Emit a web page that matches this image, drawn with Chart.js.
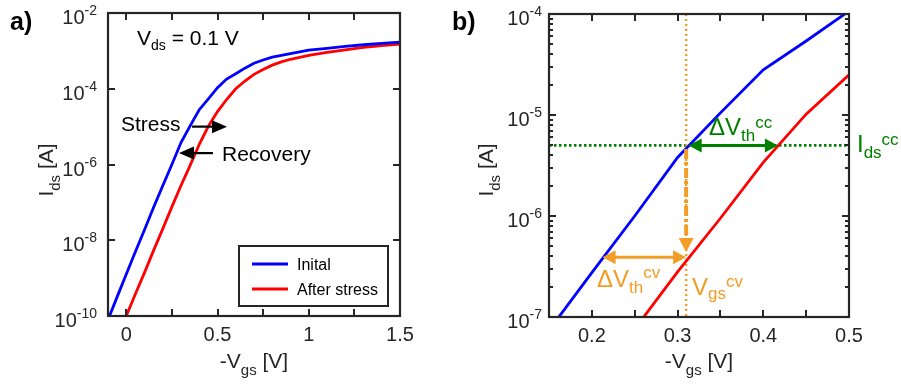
<!DOCTYPE html>
<html>
<head>
<meta charset="utf-8">
<style>
  html, body { margin: 0; padding: 0; background: #fff; }
  #wrap { position: relative; width: 901px; height: 385px; overflow: hidden; }
  canvas { position: absolute; top: 0; }
</style>
</head>
<body>
<div id="wrap">
  <canvas id="chartA" width="450" height="385" style="left:0"></canvas>
  <canvas id="chartB" width="451" height="385" style="left:450px"></canvas>
</div>
<script src="https://cdn.jsdelivr.net/npm/chart.js"></script>
<script>
// transfer curves, -Vgs [V] vs Ids [A]
const vgsInitial = [-0.1, -0.05, 0, 0.05, 0.1, 0.15, 0.2, 0.25, 0.3, 0.35, 0.4, 0.45, 0.5, 0.55, 0.6, 0.65, 0.7, 0.75, 0.8, 0.85, 0.9, 1.0, 1.1, 1.2, 1.3, 1.4, 1.5];
const idsInitial = [7.9e-11, 3.2e-10, 1.26e-9, 5.0e-9, 1.9e-8, 7.4e-8, 2.75e-7, 1.0e-6, 3.8e-6, 1.05e-5, 2.8e-5, 5.4e-5, 1.07e-4, 1.8e-4, 2.5e-4, 3.5e-4, 4.7e-4, 5.75e-4, 6.8e-4, 7.6e-4, 8.5e-4, 1.05e-3, 1.17e-3, 1.32e-3, 1.45e-3, 1.58e-3, 1.7e-3];
const vgsStress = [0, 0.05, 0.1, 0.15, 0.2, 0.25, 0.3, 0.35, 0.4, 0.45, 0.5, 0.55, 0.6, 0.65, 0.7, 0.75, 0.8, 0.85, 0.9, 1.0, 1.1, 1.2, 1.3, 1.4, 1.5];
const idsStress = [1.0e-10, 3.8e-10, 1.4e-9, 5.4e-9, 2.0e-8, 7.6e-8, 2.8e-7, 9.5e-7, 3.4e-6, 1.02e-5, 2.5e-5, 5.2e-5, 1.0e-4, 1.6e-4, 2.4e-4, 3.2e-4, 4.2e-4, 5.1e-4, 6.0e-4, 7.6e-4, 9.1e-4, 1.07e-3, 1.23e-3, 1.38e-3, 1.5e-3];
const seriesNames = ['Inital', 'After stress'];

// axis ticks
const xTicksA = [0, 0.25, 0.5, 0.75, 1, 1.25];
const xLabelsA = [0, 0.5, 1, 1.5];
const yExpA = [-2, -4, -6, -8, -10];
const xTicksB = [0.2, 0.25, 0.3, 0.35, 0.4, 0.45];
const xLabelsB = [0.2, 0.3, 0.4, 0.5];
const yExpB = [-4, -5, -6, -7];
const yMinorB = [2, 3, 4, 5, 6, 7, 8, 9];

// threshold extraction markers
const idsCC = 5e-6;            // constant-current level
const vthCC = [0.313, 0.417];  // where each curve crosses idsCC
const vgsCV = 0.31;            // constant-voltage point
const idsCV = 3.9e-7;
const vthCV = [0.2125, 0.31];
const stressArrow = [[0.36, 1e-5], [0.552, 1e-5]];
const recoveryArrow = [[0.475, 2e-6], [0.289, 2e-6]];

const FONT = '"Liberation Sans", Arial, sans-serif';
const AXIS = '#262626';
const BLUE = '#0000ff', RED = '#ff0000', GREEN = '#008000', ORANGE = '#f29d26';

function richText(ctx, x, y, parts, align) {
  ctx.textAlign = 'left';
  ctx.textBaseline = 'alphabetic';
  let w = 0;
  parts.forEach(p => { ctx.font = (p[3] || '') + p[1] + 'px ' + FONT; w += ctx.measureText(p[0]).width; });
  let cx = align === 'center' ? x - w / 2 : align === 'right' ? x - w : x;
  parts.forEach(p => {
    ctx.font = (p[3] || '') + p[1] + 'px ' + FONT;
    ctx.fillText(p[0], cx, y + (p[2] || 0));
    cx += ctx.measureText(p[0]).width;
  });
}

function head(ctx, x0, y0, x1, y1, len, half) {
  const a = Math.atan2(y1 - y0, x1 - x0), c = Math.cos(a), s = Math.sin(a);
  ctx.beginPath();
  ctx.moveTo(x1, y1);
  ctx.lineTo(x1 - len * c + half * s, y1 - len * s - half * c);
  ctx.lineTo(x1 - len * c - half * s, y1 - len * s + half * c);
  ctx.closePath();
  ctx.fill();
}

function arrow(ctx, x0, y0, x1, y1, o) {
  const a = Math.atan2(y1 - y0, x1 - x0), c = Math.cos(a), s = Math.sin(a);
  ctx.save();
  ctx.strokeStyle = o.color; ctx.fillStyle = o.color; ctx.lineWidth = o.width;
  if (o.dash) ctx.setLineDash(o.dash);
  ctx.beginPath();
  ctx.moveTo(o.both ? x0 + (o.len - 1) * c : x0, o.both ? y0 + (o.len - 1) * s : y0);
  ctx.lineTo(x1 - (o.len - 1) * c, y1 - (o.len - 1) * s);
  ctx.stroke();
  ctx.setLineDash([]);
  head(ctx, x0, y0, x1, y1, o.len, o.half);
  if (o.both) head(ctx, x1, y1, x0, y0, o.len, o.half);
  ctx.restore();
}

// inward tick marks on all four sides
function tickMarks(ctx, a, xs, ys, len) {
  xs.forEach(px => {
    ctx.fillRect(px - 1, a.bottom - len, 2, len);
    ctx.fillRect(px - 1, a.top, 2, len);
  });
  ys.forEach(py => {
    ctx.fillRect(a.left, py - 1, len, 2);
    ctx.fillRect(a.right - len, py - 1, len, 2);
  });
}

function drawFrame(chart, f) {
  const { ctx, chartArea: a, scales: { x, y } } = chart;
  ctx.save();
  ctx.fillStyle = AXIS;
  const xPix = f.xTicks.map(v => Math.round(x.getPixelForValue(v)));
  const yPix = f.yExp.map(e => Math.round(y.getPixelForValue(Math.pow(10, e))));
  const yMinorPix = [];
  f.yExp.forEach(e => (f.yMinor || []).forEach(m => {
    const pm = Math.round(y.getPixelForValue(m * Math.pow(10, e - 1)));
    if (pm < a.bottom && pm > a.top) yMinorPix.push(pm);
  }));
  tickMarks(ctx, a, xPix, yPix, 7);
  tickMarks(ctx, a, [], yMinorPix, 4);
  ctx.strokeStyle = AXIS;
  ctx.lineWidth = 2.2;
  ctx.strokeRect(a.left, a.top, a.right - a.left, a.bottom - a.top);

  f.xLabels.forEach(v => richText(ctx, x.getPixelForValue(v), a.bottom + 25, [[String(v), 20, 0]], 'center'));
  f.yExp.forEach(e => {
    const py = y.getPixelForValue(Math.pow(10, e));
    richText(ctx, f.yLabelRight, py, [['10', 20, 11], [String(e), 14, 2]], 'right');
  });
  richText(ctx, (a.left + a.right) / 2, 368, [['-V', 21, 0], ['gs', 15, 7], [' [V]', 21, 0]], 'center');
  ctx.translate(f.yTitleX, 170);
  ctx.rotate(-Math.PI / 2);
  richText(ctx, 0, 0, [['I', 21, 0], ['ds', 15, 7], [' [A]', 21, 0]], 'center');
  ctx.restore();
  ctx.save();
  ctx.fillStyle = '#000';
  richText(ctx, f.tagX, 30, [[f.tag, 25, 0, 'bold ']], 'left');
  ctx.restore();
}

function pts(xs, ys) { return xs.map((v, i) => ({ x: v, y: ys[i] })); }

function curves() {
  return [
    { label: seriesNames[0], data: pts(vgsInitial, idsInitial), borderColor: BLUE, borderWidth: 2.8, showLine: true, pointRadius: 0, fill: false, clip: 0 },
    { label: seriesNames[1], data: pts(vgsStress, idsStress), borderColor: RED, borderWidth: 2.8, showLine: true, pointRadius: 0, fill: false, clip: 0 }
  ];
}

const baseOptions = (xr, yr, pad) => ({
  responsive: false,
  animation: false,
  layout: { padding: pad },
  plugins: { legend: { display: false }, tooltip: { enabled: false } },
  scales: {
    x: { type: 'linear', min: xr[0], max: xr[1], display: false },
    y: { type: 'logarithmic', min: yr[0], max: yr[1], display: false }
  }
});

// panel a: full sweep
new Chart(document.getElementById('chartA'), {
  type: 'scatter',
  data: { datasets: curves() },
  options: baseOptions([-0.1, 1.5], [1e-10, 1e-2], { left: 108, top: 13, right: 50, bottom: 69 }),
  plugins: [{
    id: 'panelA',
    afterDraw(chart) {
      const { ctx, scales: { x, y } } = chart;
      drawFrame(chart, { xTicks: xTicksA, xLabels: xLabelsA, yExp: yExpA, yLabelRight: 97, yTitleX: 53, tag: 'a)', tagX: 10 });
      ctx.save();
      ctx.fillStyle = '#000';
      richText(ctx, 137, 45, [['V', 21, 0], ['ds', 14, 5], [' = 0.1 V', 21, 0]], 'left');
      richText(ctx, 121, 131, [['Stress', 21, 0]], 'left');
      richText(ctx, 222, 161, [['Recovery', 21, 0]], 'left');
      ctx.restore();
      [stressArrow, recoveryArrow].forEach(ar => arrow(ctx,
        x.getPixelForValue(ar[0][0]), y.getPixelForValue(ar[0][1]),
        x.getPixelForValue(ar[1][0]), y.getPixelForValue(ar[1][1]),
        { color: '#000', width: 2.2, len: 15, half: 6.5 }));

      // legend
      ctx.save();
      ctx.fillStyle = '#fff';
      ctx.fillRect(239, 246, 149, 60);
      ctx.strokeStyle = AXIS; ctx.lineWidth = 2;
      ctx.strokeRect(239, 246, 149, 60);
      chart.data.datasets.forEach((ds, i) => {
        const ly = 264 + i * 25;
        ctx.strokeStyle = ds.borderColor; ctx.lineWidth = 2.8;
        ctx.beginPath(); ctx.moveTo(252, ly); ctx.lineTo(288, ly); ctx.stroke();
        ctx.fillStyle = '#000';
        richText(ctx, 297, ly + 6, [[ds.label, 16, 0]], 'left');
      });
      ctx.restore();
    }
  }]
});

// panel b: zoom on the subthreshold region
new Chart(document.getElementById('chartB'), {
  type: 'scatter',
  data: { datasets: curves() },
  options: baseOptions([0.15, 0.5], [1e-7, 1e-4], { left: 99, top: 14, right: 52, bottom: 68 }),
  plugins: [{
    id: 'panelB',
    beforeDatasetsDraw(chart) {
      const { ctx, chartArea: a, scales: { x, y } } = chart;
      ctx.save();
      ctx.lineWidth = 2.6;
      ctx.setLineDash([2.5, 2.5]);
      ctx.strokeStyle = GREEN;
      const yc = y.getPixelForValue(idsCC);
      ctx.beginPath(); ctx.moveTo(a.left, yc); ctx.lineTo(a.right, yc); ctx.stroke();
      ctx.strokeStyle = ORANGE;
      ctx.lineWidth = 2.4;
      ctx.setLineDash([2, 3]);
      const xc = x.getPixelForValue(vgsCV);
      ctx.beginPath(); ctx.moveTo(xc, a.top); ctx.lineTo(xc, a.bottom); ctx.stroke();
      ctx.restore();
    },
    afterDraw(chart) {
      const { ctx, scales: { x, y } } = chart;
      drawFrame(chart, { xTicks: xTicksB, xLabels: xLabelsB, yExp: yExpB, yMinor: yMinorB, yLabelRight: 92, yTitleX: 43, tag: 'b)', tagX: 2 });
      const xc = x.getPixelForValue(vgsCV);
      // constant-voltage drop
      arrow(ctx, xc, y.getPixelForValue(4.6e-6), xc, y.getPixelForValue(4.4e-7),
        { color: ORANGE, width: 4, len: 14, half: 7.5, dash: [10, 3, 3, 3] });
      arrow(ctx, x.getPixelForValue(vthCV[0]), y.getPixelForValue(idsCV), x.getPixelForValue(vthCV[1]), y.getPixelForValue(idsCV),
        { color: ORANGE, width: 3, len: 13, half: 7, both: true });
      arrow(ctx, x.getPixelForValue(vthCC[0]), y.getPixelForValue(idsCC), x.getPixelForValue(vthCC[1]), y.getPixelForValue(idsCC),
        { color: GREEN, width: 3, len: 13, half: 7, both: true });
      ctx.save();
      ctx.fillStyle = GREEN;
      richText(ctx, 259, 135, [['\u0394V', 24, 0], ['th', 17, 6], ['cc', 17, -7]], 'left');
      richText(ctx, 407, 152, [['I', 24, 0], ['ds', 17, 6], ['cc', 17, -7]], 'left');
      ctx.fillStyle = ORANGE;
      richText(ctx, 147, 287, [['\u0394V', 24, 0], ['th', 17, 6], ['cv', 17, -9]], 'left');
      richText(ctx, 242, 295, [['V', 24, 0], ['gs', 17, 4], ['cv', 17, -8]], 'left');
      ctx.restore();
    }
  }]
});
</script>
</body>
</html>
